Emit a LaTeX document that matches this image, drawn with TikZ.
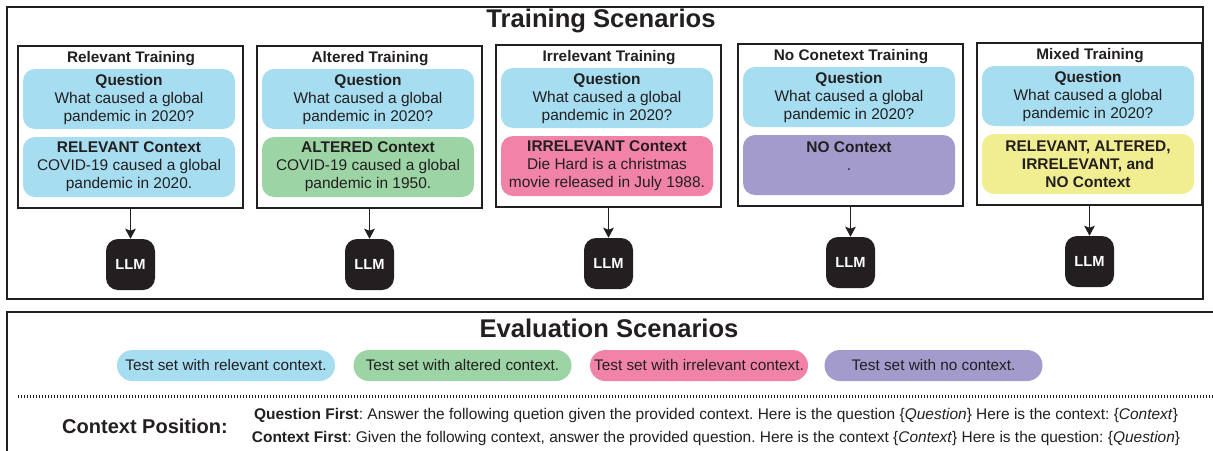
\documentclass[tikz,border=0pt]{standalone}
\usepackage{fontspec}
\setmainfont{Liberation Sans}
\usetikzlibrary{arrows.meta}
\frenchspacing
\definecolor{txt}{HTML}{231F20}
\definecolor{qblue}{HTML}{A6DDF1}
\definecolor{agreen}{HTML}{9DD4A6}
\definecolor{ipink}{HTML}{F283A8}
\definecolor{npurple}{HTML}{A29BCB}
\definecolor{myellow}{HTML}{F0EE91}
\tikzset{
  frame/.style={draw=txt, line width=1.1pt},
  tbox/.style={draw=txt, line width=0.9pt, minimum width=168.75pt, minimum height=121.5pt, inner sep=0pt},
  ttl/.style={font=\fontsize{11.5}{13.5}\selectfont\bfseries, inner sep=0pt},
  pill/.style={minimum width=159pt, minimum height=45pt, rounded corners=9pt, inner sep=0pt, align=center, font=\fontsize{11.6}{13.5}\selectfont},
  llm/.style={fill=txt, text=white, minimum width=36.75pt, minimum height=38.25pt, rounded corners=9pt, inner sep=0pt, font=\fontsize{11}{13}\selectfont\bfseries},
  arr/.style={draw=txt, line width=0.75pt, -{Stealth[length=7.5pt, width=8pt, inset=1.5pt]}},
  epill/.style={minimum width=163.5pt, minimum height=23.25pt, rounded corners=11.6pt, inner sep=0pt, font=\fontsize{11.5}{13}\selectfont},
  bigttl/.style={font=\fontsize{19.2}{22}\selectfont\bfseries, inner sep=0pt},
  btxt/.style={font=\fontsize{11.6}{13}\selectfont, inner sep=0pt}
}
\newcommand\TrainBox[6]{%
  \node[tbox] (box#1) at ({#2+112.5},{#3+81}) {};
  \node[ttl] (title#1) at ({#2+113},{#3+13}) {#4};
  \node[pill, fill=qblue] (q#1) at ({#2+111},{#3+53}) {\textbf{Question}\\What caused a global\\pandemic in 2020?};
  \node[pill, fill=#5] (c#1) at ({#2+111},{#3+121}) {#6};
  \node[llm] (llm#1) at ({#2+112.5},{#3+218.5}) {LLM};
  \draw[arr] (box#1.south) -- (llm#1.north);
}
\begin{document}
\begin{tikzpicture}[x=0.75pt, y=-0.75pt, every node/.style={text=txt}]
\useasboundingbox (0,0) rectangle (1213,450);
\clip (0,0) rectangle (1213,450);
% frames
\draw[frame] (7,7) rectangle (1203,299);
\draw[frame] (7,470) -- (7,312) -- (1230,312);
\node[bigttl] (trainttl) at (601,21) {Training Scenarios};
\TrainBox{1}{18}{46}{Relevant Training}{qblue}{\textbf{RELEVANT Context}\\COVID-19 caused a global\\pandemic in 2020.}
\TrainBox{2}{257}{46}{Altered Training}{agreen}{\textbf{ALTERED Context}\\COVID-19 caused a global\\pandemic in 1950.}
\TrainBox{3}{496}{45}{Irrelevant Training}{ipink}{\textbf{IRRELEVANT Context}\\Die Hard is a christmas\\movie released in July 1988.}
\TrainBox{4}{738}{44}{No Conetext Training}{npurple}{\textbf{NO Context}\\.\\\mbox{}}
\TrainBox{5}{977}{43}{Mixed Training}{myellow}{\textbf{RELEVANT, ALTERED,}\\\textbf{IRRELEVANT, and}\\\textbf{NO Context}}
% evaluation
\node[bigttl] (evalttl) at (609,328) {Evaluation Scenarios};
\node[epill, fill=qblue] (e1) at (226,365.5) {Test set with relevant context.};
\node[epill, fill=agreen] (e2) at (462.5,365.5) {Test set with altered context.};
\node[epill, fill=ipink] (e3) at (699,365.5) {Test set with irrelevant context.};
\node[epill, fill=npurple] (e4) at (933.5,365.5) {Test set with no context.};
\coordinate (dl1) at (18,396);
\coordinate (dl2) at (1213,396);
\draw[draw=txt, line width=2.25pt, dash pattern=on 0.75pt off 1.5pt] (dl1) -- (dl2);
\node[font=\fontsize{15}{18}\selectfont\bfseries, inner sep=0pt] (cp) at (145,426) {Context Position:};
\node[btxt] (qf) at (716,415) {\textbf{Question First}: Answer the following quetion given the provided context. Here is the question \{\textit{Question}\} Here is the context: \{\textit{Context}\}};
\node[btxt] (cf) at (716,438) {\textbf{Context First}: Given the following context, answer the provided question. Here is the context \{\textit{Context}\} Here is the question: \{\textit{Question}\}};
\end{tikzpicture}
\end{document}
